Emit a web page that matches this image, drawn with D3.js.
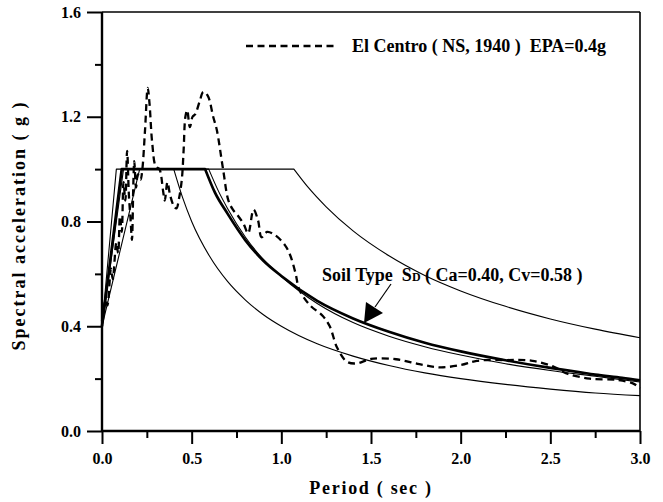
<!DOCTYPE html>
<html>
<head>
<meta charset="utf-8">
<script src="https://cdn.jsdelivr.net/npm/d3@7.9.0/dist/d3.min.js"></script>
<style>
  body { margin: 0; background: #fff; }
  svg { display: block; }
  text { font-family: "Liberation Serif", "Times New Roman", serif; font-weight: bold; fill: #000; }
</style>
</head>
<body>
<div id="chart"></div>
<script>
// ===== data (period T in sec, Sa in g) =====
const lowerT = [0, 0.08, 0.40, 0.45, 0.50, 0.60, 0.70, 0.80, 0.90, 1.00, 1.20, 1.40, 1.60, 1.80, 2.00, 2.25, 2.50, 2.75, 3.00];
const lowerSa = [0.40, 1.00, 1.00, 0.89, 0.80, 0.667, 0.571, 0.50, 0.444, 0.40, 0.333, 0.286, 0.25, 0.222, 0.20, 0.178, 0.16, 0.145, 0.135];

const upperT = [0, 0.21, 1.07, 1.15, 1.25, 1.40, 1.60, 1.80, 2.00, 2.25, 2.50, 2.75, 3.00];
const upperSa = [0.40, 1.00, 1.00, 0.93, 0.856, 0.764, 0.669, 0.594, 0.535, 0.476, 0.428, 0.389, 0.356];

// thin design spectrum, soil type SD
const sdT = [0, 0.12, 0.595, 0.65, 0.70, 0.80, 0.90, 1.00, 1.20, 1.40, 1.60, 1.80, 2.00, 2.25, 2.50, 2.75, 3.00];
const sdSa = [0.40, 1.00, 1.00, 0.915, 0.85, 0.74, 0.655, 0.59, 0.487, 0.414, 0.362, 0.322, 0.29, 0.257, 0.231, 0.209, 0.187];

// thick (averaged) spectrum
const avgT = [0, 0.11, 0.575, 0.63, 0.70, 0.80, 0.90, 1.00, 1.20, 1.40, 1.60, 1.80, 2.00, 2.25, 2.50, 2.65, 2.75, 2.90, 3.00];
const avgSa = [0.40, 1.00, 1.00, 0.91, 0.83, 0.728, 0.65, 0.592, 0.497, 0.43, 0.379, 0.337, 0.304, 0.27, 0.241, 0.226, 0.215, 0.203, 0.193];

// El Centro (NS, 1940) response spectrum, EPA = 0.4g
const elT = [0, 0.02, 0.03, 0.05, 0.06, 0.08, 0.09, 0.10, 0.11, 0.12, 0.13, 0.14, 0.15, 0.16, 0.167, 0.175, 0.18, 0.19, 0.20, 0.215,
  0.225, 0.24, 0.255, 0.265, 0.28, 0.30, 0.32, 0.34, 0.35, 0.365, 0.38, 0.40, 0.415, 0.43, 0.445, 0.455, 0.465, 0.475, 0.49, 0.505,
  0.52, 0.545, 0.565, 0.59, 0.62, 0.64, 0.675, 0.705, 0.73, 0.76, 0.79, 0.815, 0.845, 0.87, 0.89, 0.92, 0.965, 1.02, 1.05, 1.08,
  1.10, 1.16, 1.23, 1.27, 1.31, 1.365, 1.42, 1.50, 1.64, 1.77, 1.885, 2.00, 2.09, 2.26, 2.40, 2.52, 2.59, 2.72, 2.87, 2.96, 3.00];
const elSa = [0.42, 0.50, 0.48, 0.62, 0.58, 0.72, 0.68, 0.82, 0.76, 0.95, 0.88, 1.07, 0.90, 0.80, 0.73, 0.95, 1.03, 0.93, 0.98, 0.96,
  1.00, 1.15, 1.31, 1.25, 1.10, 1.01, 1.00, 0.92, 0.88, 0.95, 0.90, 0.86, 0.85, 0.89, 0.96, 1.07, 1.20, 1.225, 1.16, 1.20,
  1.21, 1.26, 1.295, 1.28, 1.20, 1.15, 1.00, 0.88, 0.845, 0.82, 0.79, 0.755, 0.845, 0.805, 0.74, 0.76, 0.748, 0.71, 0.67, 0.60,
  0.54, 0.48, 0.44, 0.40, 0.32, 0.265, 0.258, 0.275, 0.274, 0.255, 0.243, 0.252, 0.268, 0.271, 0.268, 0.245, 0.22, 0.20, 0.195, 0.182, 0.163];

const xMajor = [0, 0.5, 1.0, 1.5, 2.0, 2.5, 3.0];
const xMinor = [0.25, 0.75, 1.25, 1.75, 2.25, 2.75];
const yMajor = [0, 0.4, 0.8, 1.2, 1.6];
const yMinor = [0.2, 0.6, 1.0, 1.4];

// ===== layout =====
const W = 663, H = 502;
const mLeft = 102, mRight = 640, mTop = 12, mBottom = 431;

const svg = d3.select("#chart").append("svg")
  .attr("width", W)
  .attr("height", H);

const x = d3.scaleLinear().domain([0, 3]).range([mLeft, mRight]);
const y = d3.scaleLinear().domain([0, 1.6]).range([mBottom, mTop]);

const zip = (ts, vs) => ts.map((t, i) => ({ t, v: vs[i] }));

// curves: straight ramp + plateau, smooth decay after the corner
const straight = d3.line().x(d => x(d.t)).y(d => y(d.v));
const smooth = d3.line().x(d => x(d.t)).y(d => y(d.v)).curve(d3.curveMonotoneX);
const jag = d3.line().x(d => x(d.t)).y(d => y(d.v)).curve(d3.curveCatmullRom.alpha(0.5));

const plot = svg.append("g");

function spectrum(ts, vs, width) {
  const pts = zip(ts, vs);
  const d = straight(pts.slice(0, 3)) + smooth(pts.slice(2)).replace(/^M/, "L");
  plot.append("path")
    .attr("d", d)
    .attr("fill", "none")
    .attr("stroke", "#000")
    .attr("stroke-width", width)
    .attr("stroke-linejoin", "round");
}

spectrum(lowerT, lowerSa, 1.1);
spectrum(upperT, upperSa, 1.1);
spectrum(avgT, avgSa, 2.7);
spectrum(sdT, sdSa, 1.1);

plot.append("path")
  .attr("d", jag(zip(elT, elSa)))
  .attr("fill", "none").attr("stroke", "#000").attr("stroke-width", 2.3)
  .attr("stroke-dasharray", "7,4.5");

// ===== axes =====
const yAxisMajor = d3.axisLeft(y).tickValues(yMajor).tickSize(15).tickPadding(6)
  .tickFormat(d3.format(".1f"));
const yAxisMinor = d3.axisLeft(y).tickValues(yMinor).tickSize(7).tickFormat("");
const xAxisMajor = d3.axisBottom(x).tickValues(xMajor).tickSize(13).tickPadding(9)
  .tickFormat(d3.format(".1f"));
const xAxisMinor = d3.axisBottom(x).tickValues(xMinor).tickSize(7).tickFormat("");

function styleAxis(g) {
  g.select(".domain").remove();
  g.selectAll("line").attr("stroke", "#000").attr("stroke-width", 2);
  g.selectAll("text").attr("font-size", 16).attr("fill", "#000");
}

svg.append("g").attr("transform", `translate(${mLeft},0)`).call(yAxisMajor).call(styleAxis);
svg.append("g").attr("transform", `translate(${mLeft},0)`).call(yAxisMinor).call(styleAxis);
svg.append("g").attr("transform", `translate(0,${mBottom})`).call(xAxisMajor).call(styleAxis);
svg.append("g").attr("transform", `translate(0,${mBottom})`).call(xAxisMinor).call(styleAxis);

// frame
svg.append("line").attr("x1", mLeft).attr("x2", mLeft).attr("y1", mTop).attr("y2", mBottom)
  .attr("stroke", "#000").attr("stroke-width", 2.4);
svg.append("line").attr("x1", mLeft).attr("x2", mRight).attr("y1", mBottom).attr("y2", mBottom)
  .attr("stroke", "#000").attr("stroke-width", 2.6);
svg.append("line").attr("x1", mLeft).attr("x2", mRight).attr("y1", mTop).attr("y2", mTop)
  .attr("stroke", "#000").attr("stroke-width", 1.6);
svg.append("line").attr("x1", mRight).attr("x2", mRight).attr("y1", mTop).attr("y2", mBottom)
  .attr("stroke", "#000").attr("stroke-width", 1.6);

// axis titles
svg.append("text")
  .attr("transform", `translate(25,${(mTop + mBottom) / 2 + 4}) rotate(-90)`)
  .attr("text-anchor", "middle")
  .attr("font-size", 18)
  .attr("letter-spacing", 2)
  .text("Spectral acceleration ( g )");

svg.append("text")
  .attr("x", (mLeft + mRight) / 2)
  .attr("y", 494)
  .attr("text-anchor", "middle")
  .attr("font-size", 18)
  .attr("letter-spacing", 1.7)
  .text("Period ( sec )");

// legend
svg.append("line")
  .attr("x1", 246).attr("x2", 334).attr("y1", 46).attr("y2", 46)
  .attr("stroke", "#000").attr("stroke-width", 2.3)
  .attr("stroke-dasharray", "7,4.5");
svg.append("text")
  .attr("x", 352).attr("y", 52)
  .attr("font-size", 18)
  .attr("xml:space", "preserve")
  .text("El Centro ( NS, 1940 )  EPA=0.4g");

// annotation
const note = svg.append("text")
  .attr("x", 322).attr("y", 281)
  .attr("font-size", 18)
  .attr("xml:space", "preserve");
note.append("tspan").text("Soil Type  S");
note.append("tspan").attr("font-size", 12).text("D");
note.append("tspan").text(" ( Ca=0.40, Cv=0.58 )");

svg.append("line")
  .attr("x1", 391).attr("y1", 284).attr("x2", 375).attr("y2", 307)
  .attr("stroke", "#000").attr("stroke-width", 1.2);
svg.append("path")
  .attr("d", "M364,323 L366,302 L383,313 Z")
  .attr("fill", "#000");
</script>
</body>
</html>
